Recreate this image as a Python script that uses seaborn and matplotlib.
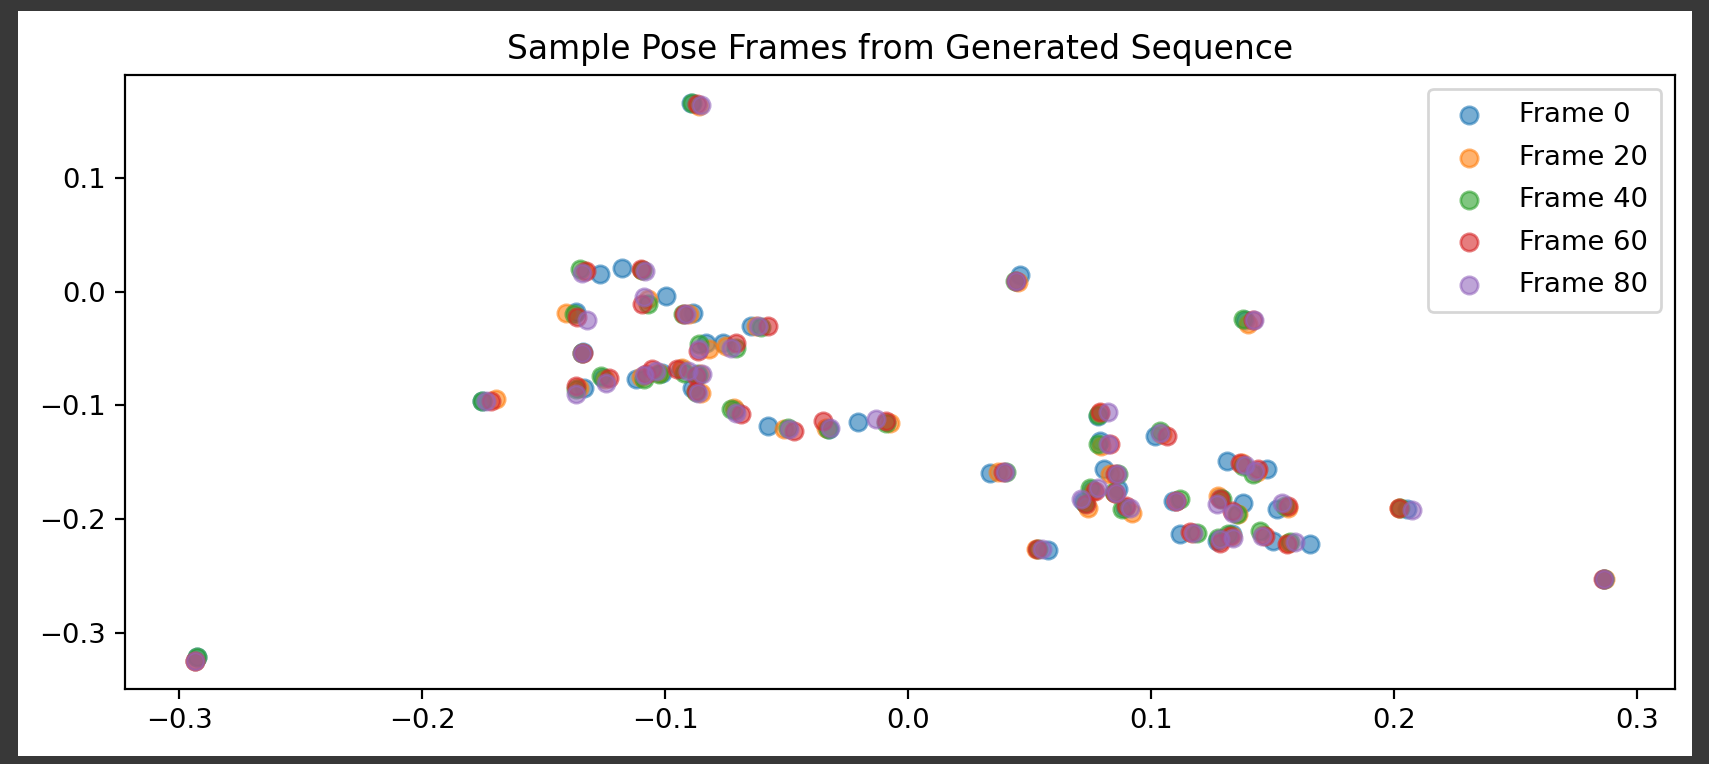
import matplotlib
matplotlib.use("Agg")
import matplotlib.pyplot as plt
from matplotlib.patches import Rectangle
import seaborn as sns

frames = [0, 20, 40, 60, 80]

frame0_x = [-0.0895, -0.1269, -0.1179, -0.0997, -0.1366, -0.0888, -0.0647, -0.1338, -0.0833, -0.0764, -0.1255, -0.1334,
            -0.1753, -0.1121, -0.1012, -0.0936, -0.0870, -0.0891, -0.0715, -0.0579, -0.0327, -0.0205, 0.0458, 0.0781,
            0.0788, 0.1015, 0.0335, 0.0805, 0.0755, 0.0864, 0.0720, 0.0891, 0.1090, 0.1118, 0.1310, 0.1475,
            0.1283, 0.1379, 0.1517, 0.1269, 0.1331, 0.1503, 0.1654, 0.2052, 0.2862, -0.2927, 0.1385, 0.0575]
frame0_y = [0.1660, 0.0152, 0.0211, -0.0039, -0.0179, -0.0185, -0.0302, -0.0535, -0.0449, -0.0449, -0.0760, -0.0844,
            -0.0962, -0.0765, -0.0713, -0.0684, -0.0720, -0.0845, -0.1045, -0.1182, -0.1211, -0.1147, 0.0150, -0.1094,
            -0.1314, -0.1270, -0.1592, -0.1563, -0.1740, -0.1739, -0.1842, -0.1900, -0.1842, -0.2128, -0.1490, -0.1563,
            -0.1812, -0.1856, -0.1915, -0.2193, -0.2135, -0.2193, -0.2223, -0.1915, -0.2525, -0.3210, -0.0250, -0.2270]

frame20_x = [-0.0860, -0.1335, -0.1094, -0.1073, -0.1409, -0.0901, -0.0626, -0.1341, -0.0819, -0.0750, -0.1250, -0.1354,
             -0.1698, -0.1100, -0.1025, -0.0931, -0.0858, -0.0853, -0.0716, -0.0510, -0.0338, -0.0077, 0.0450, 0.0790,
             0.0795, 0.1043, 0.0370, 0.0830, 0.0761, 0.0852, 0.0740, 0.0919, 0.1100, 0.1166, 0.1372, 0.1434,
             0.1276, 0.1358, 0.1565, 0.1290, 0.1331, 0.1461, 0.1565, 0.2022, 0.2866, -0.2934, 0.1399, 0.0525]
frame20_y = [0.1630, 0.0180, 0.0190, -0.0068, -0.0191, -0.0200, -0.0302, -0.0540, -0.0507, -0.0478, -0.0765, -0.0844,
             -0.0947, -0.0748, -0.0713, -0.0669, -0.0725, -0.0889, -0.1020, -0.1211, -0.1196, -0.1153, 0.0085, -0.1070,
             -0.1358, -0.1255, -0.1587, -0.1600, -0.1753, -0.1770, -0.1900, -0.1944, -0.1842, -0.2120, -0.1510, -0.1587,
             -0.1797, -0.1959, -0.1900, -0.2179, -0.2150, -0.2143, -0.2208, -0.1900, -0.2530, -0.3249, -0.0288, -0.2262]

frame40_x = [-0.0890, -0.1351, -0.1097, -0.1073, -0.1375, -0.0929, -0.0606, -0.1343, -0.0860, -0.0709, -0.1265, -0.1368,
             -0.1753, -0.1087, -0.1025, -0.0922, -0.0865, -0.0875, -0.0729, -0.0496, -0.0331, -0.0091, 0.0440, 0.0781,
             0.0781, 0.1036, 0.0404, 0.0865, 0.0747, 0.0848, 0.0727, 0.0878, 0.1118, 0.1187, 0.1379, 0.1420,
             0.1290, 0.1352, 0.1551, 0.1276, 0.1317, 0.1448, 0.1572, 0.2025, 0.2862, -0.2927, 0.1379, 0.0535]
frame40_y = [0.1660, 0.0202, 0.0190, -0.0112, -0.0200, -0.0200, -0.0310, -0.0537, -0.0463, -0.0493, -0.0742, -0.0859,
             -0.0962, -0.0771, -0.0728, -0.0713, -0.0730, -0.0880, -0.1035, -0.1196, -0.1205, -0.1158, 0.0090, -0.1085,
             -0.1343, -0.1226, -0.1582, -0.1600, -0.1724, -0.1765, -0.1856, -0.1915, -0.1827, -0.2122, -0.1533, -0.1607,
             -0.1827, -0.1959, -0.1885, -0.2164, -0.2135, -0.2105, -0.2202, -0.1900, -0.2527, -0.3212, -0.0244, -0.2266]

frame60_x = [-0.0870, -0.1327, -0.1100, -0.1096, -0.1362, -0.0922, -0.0579, -0.1340, -0.0867, -0.0709, -0.1233, -0.1368,
             -0.1719, -0.1080, -0.1055, -0.0950, -0.0874, -0.0873, -0.0688, -0.0469, -0.0352, -0.0091, 0.0442, 0.0788,
             0.0830, 0.1064, 0.0390, 0.0851, 0.0768, 0.0850, 0.0733, 0.0898, 0.1104, 0.1159, 0.1365, 0.1441,
             0.1283, 0.1331, 0.1565, 0.1283, 0.1324, 0.1468, 0.1558, 0.2020, 0.2860, -0.2934, 0.1420, 0.0528]
frame60_y = [0.1650, 0.0181, 0.0195, -0.0112, -0.0220, -0.0193, -0.0302, -0.0538, -0.0522, -0.0449, -0.0757, -0.0830,
             -0.0962, -0.0728, -0.0678, -0.0684, -0.0742, -0.0875, -0.1079, -0.1226, -0.1140, -0.1138, 0.0095, -0.1058,
             -0.1343, -0.1270, -0.1587, -0.1600, -0.1753, -0.1768, -0.1871, -0.1885, -0.1845, -0.2118, -0.1505, -0.1563,
             -0.1827, -0.1929, -0.1885, -0.2214, -0.2150, -0.2150, -0.2223, -0.1900, -0.2525, -0.3249, -0.0248, -0.2262]

frame80_x = [-0.0855, -0.1341, -0.1085, -0.1087, -0.1324, -0.0915, -0.0620, -0.1341, -0.0860, -0.0729, -0.1245, -0.1368,
             -0.1737, -0.1087, -0.1038, -0.0908, -0.0847, -0.0866, -0.0709, -0.0489, -0.0324, -0.0132, 0.0445, 0.0823,
             0.0823, 0.1036, 0.0397, 0.0858, 0.0782, 0.0854, 0.0713, 0.0912, 0.1104, 0.1173, 0.1386, 0.1427,
             0.1269, 0.1338, 0.1537, 0.1283, 0.1338, 0.1455, 0.1592, 0.2073, 0.2862, -0.2934, 0.1422, 0.0551]
frame80_y = [0.1640, 0.0161, 0.0180, -0.0050, -0.0250, -0.0200, -0.0300, -0.0536, -0.0507, -0.0493, -0.0800, -0.0903,
             -0.0962, -0.0737, -0.0698, -0.0698, -0.0727, -0.0889, -0.1064, -0.1211, -0.1196, -0.1123, 0.0092, -0.1058,
             -0.1343, -0.1240, -0.1587, -0.1600, -0.1724, -0.1774, -0.1827, -0.1900, -0.1842, -0.2120, -0.1528, -0.1578,
             -0.1871, -0.1950, -0.1856, -0.2179, -0.2164, -0.2150, -0.2202, -0.1921, -0.2527, -0.3249, -0.0250, -0.2266]

frames_x = [frame0_x, frame20_x, frame40_x, frame60_x, frame80_x]
frames_y = [frame0_y, frame20_y, frame40_y, frame60_y, frame80_y]

W, H, DPI = 1710, 764, 197
fig = plt.figure(figsize=(W / DPI, H / DPI), dpi=DPI, facecolor="#383838")
# white notebook cell inside the dark border
fig.add_artist(Rectangle((18 / W, 1 - 756 / H), (1692 - 18) / W, (756 - 11) / H,
                         transform=fig.transFigure, facecolor="white", edgecolor="none", zorder=-1))
ax = fig.add_axes([125 / W, 1 - 689 / H, (1675 - 125) / W, (689 - 75) / H])

palette = sns.color_palette("tab10")
for i, frame in enumerate(frames):
    sns.scatterplot(x=frames_x[i], y=frames_y[i], ax=ax, color=palette[i], s=40, alpha=0.6,
                    edgecolor="face", linewidth=1.0, label=f"Frame {frame}")

ax.set_title("Sample Pose Frames from Generated Sequence")
ax.legend(loc="upper right", labelspacing=0.6, borderpad=0.5)

fig.savefig("out.png", dpi=DPI, facecolor=fig.get_facecolor())
